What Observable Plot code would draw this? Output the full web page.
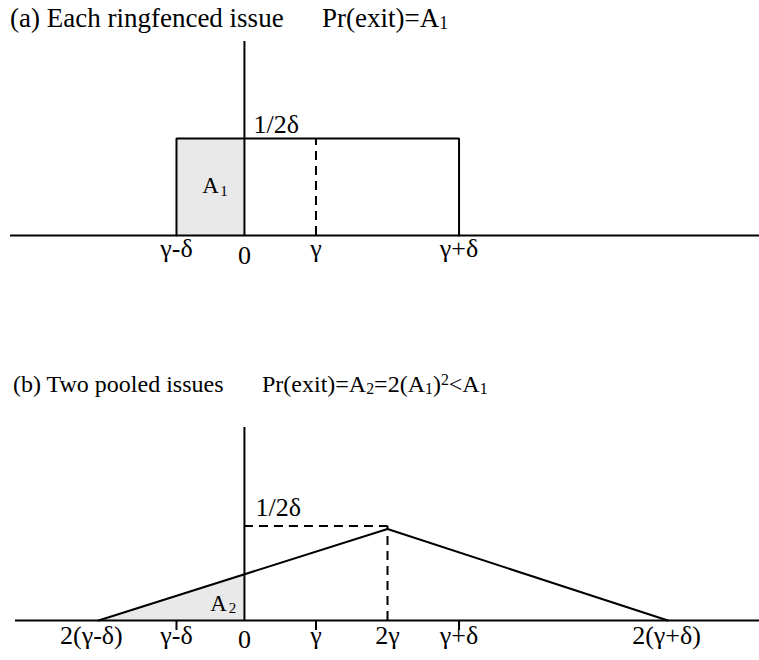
<!DOCTYPE html>
<html><head><meta charset="utf-8">
<script src="https://cdn.jsdelivr.net/npm/d3@7"></script>
<script src="https://cdn.jsdelivr.net/npm/@observablehq/plot@0.6"></script>
<style>
body{margin:0;background:#fff;}
#wrap{position:relative;width:759px;height:660px;overflow:hidden;font-family:"Liberation Serif","Times New Roman",serif;background:#fff;}
.title{position:absolute;line-height:1;white-space:pre;color:#000;}
.ta{font-size:27px;}
.tb{font-size:24px;}
.title sub{font-size:0.66em;vertical-align:baseline;position:relative;top:0.1em;}
.title sup{font-size:0.66em;vertical-align:baseline;position:relative;top:-0.45em;}
.panel{position:absolute;left:0;}
</style></head>
<body>
<div id="wrap">
  <div class="panel" id="pa" style="top:0px"></div>
  <div class="panel" id="pb" style="top:330px"></div>
  <span class="title ta" style="left:10px;top:5px">(a) Each ringfenced issue</span>
  <span class="title ta" style="left:322px;top:5px">Pr(exit)=A<sub>1</sub></span>
  <span class="title tb" style="left:13px;top:372px">(b) Two pooled issues</span>
  <span class="title tb" style="left:262px;top:372px">Pr(exit)=A<sub>2</sub>=2(A<sub>1</sub>)<sup>2</sup>&lt;A<sub>1</sub></span>
</div>
<script>
// ---- shared horizontal extent (units where gamma = 1) ----
const xDomain = [-3.41, 7.2];

// ---- panel (a): each ringfenced issue (uniform density) ----
const tickLabelsA = ["γ-δ", "0", "γ", "γ+δ"];
const tickPosA = [-0.95, 0, 1.0, 3.0];
const rectEdgesA = [-0.95, 3.0];
const densityA = 0.25;          // height 1/2δ
const shadeEdgesA = [-0.95, 0]; // area A1
const gammaA = 1.0;
const axisTopA = 0.5;
const baselineStartA = -3.27;

// ---- panel (b): two pooled issues (triangular density) ----
const triX = [-2.04, 2.0, 5.92];
const triY = [0, 0.237, 0];
const shadeBX = [-2.04, 0];
const shadeBY = [0, 0.12];
const refLevelB = 0.245;        // 1/2δ reference
const peakXB = 2.0;
const tickLabelsB = ["2(γ-δ)", "γ-δ", "0", "γ", "2γ", "γ+δ", "2(γ+δ)"];
const tickPosB = [-2.14, -0.95, 0, 1.0, 2.0, 3.0, 5.9];
const smallTicksB = [-0.95, 1.0, 3.0];
const axisTopB = 0.5;
const baselineStartB = -3.20;

const FONT = "Liberation Serif, Times New Roman, serif";
const SHADE = "#e9e9e9";
const DASH = "9,6";

// ---------- panel (a) ----------
const ticksA = tickLabelsA.map((label, i) => ({label, x: tickPosA[i]}));
const outlineA = [
  {x: rectEdgesA[0], y: 0}, {x: rectEdgesA[0], y: densityA},
  {x: rectEdgesA[1], y: densityA}, {x: rectEdgesA[1], y: 0}
];
const midShadeA = (shadeEdgesA[0] + shadeEdgesA[1]) / 2;

const plotA = Plot.plot({
  width: 759, height: 330,
  marginLeft: 0, marginRight: 0, marginTop: 41, marginBottom: 95,
  x: {domain: xDomain, axis: null},
  y: {domain: [0, axisTopA], axis: null},
  style: {fontFamily: FONT, background: "#fff", color: "#000"},
  marks: [
    Plot.rect([{x1: shadeEdgesA[0], x2: shadeEdgesA[1], y1: 0, y2: densityA}],
      {x1: "x1", x2: "x2", y1: "y1", y2: "y2", fill: SHADE}),
    Plot.ruleY([0], {x1: baselineStartA, x2: xDomain[1], stroke: "#000", strokeWidth: 2}),
    Plot.ruleX([0], {y1: 0, y2: axisTopA, stroke: "#000", strokeWidth: 2}),
    Plot.line(outlineA, {x: "x", y: "y", stroke: "#000", strokeWidth: 2, strokeLinejoin: "miter"}),
    Plot.ruleX([gammaA], {y1: 0, y2: densityA, stroke: "#000", strokeWidth: 2, strokeDasharray: DASH}),
    Plot.text(ticksA, {filter: d => d.label !== "0", x: "x", y: () => 0, text: "label",
      lineAnchor: "bottom", dy: 21, fontSize: 26, fill: "#000"}),
    Plot.text(ticksA, {filter: d => d.label === "0", x: "x", y: () => 0, text: "label",
      lineAnchor: "bottom", dy: 28, fontSize: 26, fill: "#000"}),
    Plot.text(["1/2δ"], {x: () => 0, y: () => densityA, text: d => d,
      lineAnchor: "bottom", textAnchor: "start", dx: 9, dy: -6, fontSize: 26, fill: "#000"}),
    Plot.text(["A"], {x: () => midShadeA, y: () => 0, text: d => d,
      lineAnchor: "bottom", dy: -43, fontSize: 23, fill: "#000"}),
    Plot.text(["1"], {x: () => midShadeA, y: () => 0, text: d => d,
      lineAnchor: "bottom", dx: 13.5, dy: -40, fontSize: 15, fill: "#000"})
  ]
});
document.getElementById("pa").append(plotA);

// ---------- panel (b) ----------
const tri = triX.map((x, i) => ({x, y: triY[i]}));
const shadeB = shadeBX.map((x, i) => ({x, y: shadeBY[i]}));
const ticksB = tickLabelsB.map((label, i) => ({label, x: tickPosB[i]}));

const plotB = Plot.plot({
  width: 759, height: 330,
  marginLeft: 0, marginRight: 0, marginTop: 97, marginBottom: 40,
  x: {domain: xDomain, axis: null},
  y: {domain: [0, axisTopB], axis: null},
  style: {fontFamily: FONT, background: "#fff", color: "#000"},
  marks: [
    Plot.areaY(shadeB, {x: "x", y: "y", fill: SHADE}),
    Plot.ruleY([0], {x1: baselineStartB, x2: xDomain[1], stroke: "#000", strokeWidth: 2}),
    Plot.ruleX([0], {y1: 0, y2: axisTopB, stroke: "#000", strokeWidth: 2}),
    Plot.ruleY([refLevelB], {x1: 0, x2: peakXB, stroke: "#000", strokeWidth: 2, strokeDasharray: DASH}),
    Plot.ruleX([peakXB], {y1: 0, y2: refLevelB, stroke: "#000", strokeWidth: 2, strokeDasharray: DASH}),
    Plot.line(tri, {x: "x", y: "y", stroke: "#000", strokeWidth: 2}),
    Plot.ruleX(smallTicksB, {y1: () => 0, y2: () => 0, insetBottom: -10, stroke: "#000", strokeWidth: 2}),
    Plot.text(ticksB, {filter: d => d.label !== "0", x: "x", y: () => 0, text: "label",
      lineAnchor: "bottom", dy: 23, fontSize: 26, fill: "#000"}),
    Plot.text(ticksB, {filter: d => d.label === "0", x: "x", y: () => 0, text: "label",
      lineAnchor: "bottom", dy: 27, fontSize: 26, fill: "#000"}),
    Plot.text(["1/2δ"], {x: () => 0, y: () => refLevelB, text: d => d,
      lineAnchor: "bottom", textAnchor: "start", dx: 11, dy: -10, fontSize: 26, fill: "#000"}),
    Plot.text(["A"], {x: () => 0, y: () => 0, text: d => d,
      lineAnchor: "bottom", dx: -26, dy: -10, fontSize: 23, fill: "#000"}),
    Plot.text(["2"], {x: () => 0, y: () => 0, text: d => d,
      lineAnchor: "bottom", dx: -12, dy: -8, fontSize: 15, fill: "#000"})
  ]
});
document.getElementById("pb").append(plotB);
</script>
</body></html>
